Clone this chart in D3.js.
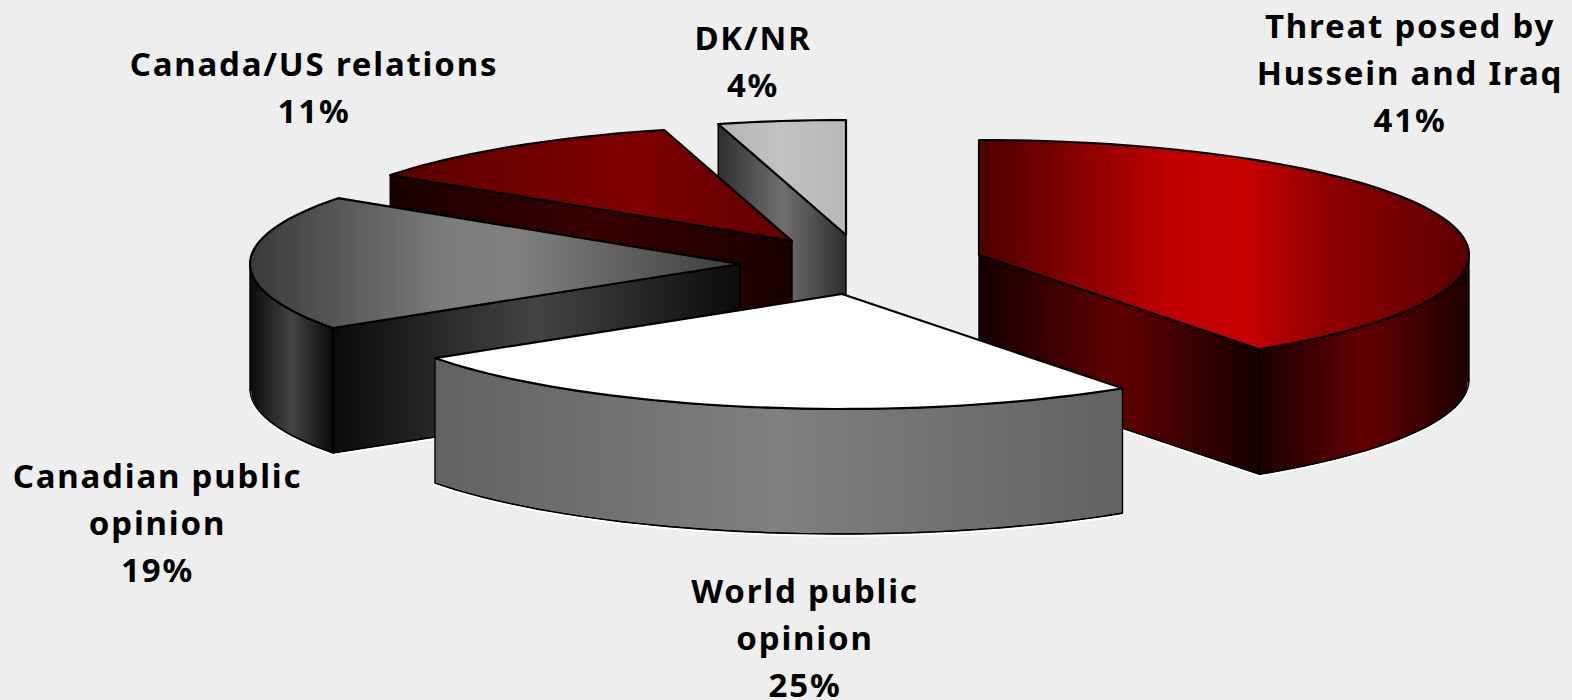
<!DOCTYPE html>
<html><head><meta charset="utf-8">
<script src="https://cdn.jsdelivr.net/npm/d3@7/dist/d3.min.js"></script>
<style>html,body{margin:0;padding:0;background:#eeeeee;overflow:hidden}svg{display:block}</style>
</head><body>
<svg id="c" width="1572" height="700"></svg>
<script>
// Data
const categories = ["Threat posed by Hussein and Iraq", "World public opinion", "Canadian public opinion", "Canada/US relations", "DK/NR"];
const labelPercents = [41, 25, 19, 11, 4];
const drawnShares = [40.3, 25.3, 19.1, 11.1, 4.2];
const labelLines = [["Threat posed by", "Hussein and Iraq"], ["World public", "opinion"], ["Canadian public", "opinion"], ["Canada/US relations"], ["DK/NR"]];

// Layout
const W = 1572, H = 700, RX = 490, RY = 115, DEPTH = 125;
const sliceCenters = [[979,255],[842,294],[740,264],[792,241],[846,235]];
const labelAnchors = [[1410,38],[805,603],[157.5,488],[314,76],[753,50]];
const drawOrder = [4,3,2,0,1];
const fills = [
  {top:[["0","#4c0000"],[".23","#900000"],[".38","#bf0000"],[".54","#c80000"],[".71","#900000"],["1","#5a0000"]], side:["#160000","#600000"], outer:["#1c0000","#640000"]},
  {top:[["0","#ffffff"],["1","#ffffff"]], side:["#626262","#808080"], outer:["#626262","#808080"]},
  {top:[["0","#3a3a3a"],[".4","#7c7c7c"],[".55","#808080"],["1","#3c3c3c"]], side:["#0b0b0b","#444444"], outer:["#0a0a0a","#444444"]},
  {top:[["0","#5a0000"],[".6","#800000"],["1","#5e0000"]], side:["#1a0000","#3a0000"], outer:["#1a0000","#3a0000"]},
  {top:[["0","#b4b4b4"],[".5","#c2c2c2"],["1","#b8b8b8"]], side:["#2e2e2e","#707070"], outer:["#2e2e2e","#707070"]}
];

const svg = d3.select("#c");
svg.append("rect").attr("width",W).attr("height",H).attr("fill","#eeeeee");
const defs = svg.append("defs");
function gradient(id, stops){
  const g = defs.append("linearGradient").attr("id",id).attr("x1",0).attr("x2",1).attr("y1",0).attr("y2",0);
  stops.forEach(s=>g.append("stop").attr("offset",s[0]).attr("stop-color",s[1]));
  return `url(#${id})`;
}

const pie = d3.pie().sort(null).value(d=>d)(drawnShares);
const xS = d3.scaleLinear().domain([-1,1]).range([-RX,RX]);
const yS = d3.scaleLinear().domain([-1,1]).range([RY,-RY]);
const line = d3.line();
const STEP = Math.PI/90;

function pt(c, a, dz=0){ return [c[0]+xS(Math.sin(a)), c[1]+yS(Math.cos(a))+dz]; }
function arcPts(c, a0, a1, dz=0){
  const n = Math.max(1, Math.ceil((a1-a0)/STEP));
  return d3.range(n+1).map(i=>pt(c, a0+(a1-a0)*i/n, dz));
}
function bottomEdge(g, pts){
  g.append("path").attr("d",line(pts)).attr("fill","none").attr("stroke","#ffffff").attr("stroke-width",2.2).attr("transform","translate(0,1.6)");
  g.append("path").attr("d",line(pts)).attr("fill","none").attr("stroke","#000000").attr("stroke-width",1.4);
}

drawOrder.forEach(i=>{
  const d = pie[i], c = sliceCenters[i], f = fills[i];
  const g = svg.append("g").attr("class","slice");
  const s = d.startAngle, e = d.endAngle;
  const wall = (a, id)=>{
    const p = pt(c,a), q = [c[0],c[1]];
    const quad = [q,p,[p[0],p[1]+DEPTH],[q[0],q[1]+DEPTH]];
    const [a0,a1] = f.side;
    g.append("path").attr("d",line(quad)+"Z")
      .attr("fill",gradient(id,[["0",a0],[".5",a1],["1",a0]]))
      .attr("stroke","#000").attr("stroke-width",1.4).attr("stroke-linejoin","round");
    bottomEdge(g,[quad[2],quad[3]]);
  };
  if (Math.sin(s) < -1e-6) wall(s,`w-s-${i}`);
  if (Math.sin(e) > 1e-6) wall(e,`w-e-${i}`);
  const o0 = Math.max(s,Math.PI/2), o1 = Math.min(e,3*Math.PI/2);
  if (o1 > o0){
    const upper = arcPts(c,o0,o1), lower = arcPts(c,o0,o1,DEPTH);
    const [a0,a1] = f.outer;
    g.append("path").attr("d",line(upper.concat(lower.slice().reverse()))+"Z")
      .attr("fill",gradient(`o-${i}`,[["0",a0],[".5",a1],["1",a0]]))
      .attr("stroke","#000").attr("stroke-width",1.4).attr("stroke-linejoin","round");
    bottomEdge(g,lower);
  }
  const top = [[c[0],c[1]]].concat(arcPts(c,s,e));
  g.append("path").attr("d",line(top)+"Z")
    .attr("fill",gradient(`t-${i}`,f.top))
    .attr("stroke","#000").attr("stroke-width",2.2).attr("stroke-linejoin","round");
});

const labels = svg.append("g").selectAll("text").data(categories).join("text")
  .attr("text-anchor","middle")
  .attr("font-family","'Noto Sans', sans-serif")
  .attr("font-weight",700)
  .attr("font-size",33)
  .attr("letter-spacing",1.8)
  .attr("fill","#000");
labels.each(function(_,i){
  const t = d3.select(this), [x,y] = labelAnchors[i];
  labelLines[i].concat([labelPercents[i]+"%"]).forEach((l,j)=>{
    t.append("tspan").attr("x",x).attr("y",y+j*47).text(l);
  });
});
</script>
</body></html>
